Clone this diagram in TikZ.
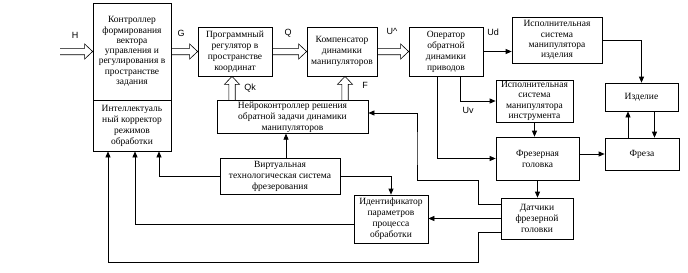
\documentclass[tikz,border=0pt]{standalone}
\usepackage{fontspec}
\setmainfont{Liberation Serif}
\newfontfamily\sigfont{Liberation Sans}
\usetikzlibrary{arrows.meta,calc}

\begin{document}
\begin{tikzpicture}[
    x=1pt, y=-1pt,
    line width=0.7pt,
    >={Triangle[length=6pt,width=5pt]},
    block/.style={
      draw,
      rectangle,
      align=center,
      inner sep=1pt,
      font=\fontsize{9.5}{11}\selectfont
    },
    tight/.style={font=\fontsize{9.5}{10.3}\selectfont},
    sig/.style={font=\sigfont\fontsize{9}{10}\selectfont},
    hollow/.style={
      line width=0.6pt,
      to path={
        let \p1=($(\tikztotarget)-(\tikztostart)$),
            \n1={atan2(\y1,\x1)},
            \n2={veclen(\x1,\y1)-8pt} in
        ($(\tikztostart)+(\n1+90:3.2pt)$)
        -- ($(\tikztostart)!\n2!(\tikztotarget)+(\n1+90:3.2pt)$)
        -- ($(\tikztostart)!\n2!(\tikztotarget)+(\n1+90:7.5pt)$)
        -- (\tikztotarget)
        -- ($(\tikztostart)!\n2!(\tikztotarget)+(\n1-90:7.5pt)$)
        -- ($(\tikztostart)!\n2!(\tikztotarget)+(\n1-90:3.2pt)$)
        -- ($(\tikztostart)+(\n1-90:3.2pt)$)
      }
    },
    every edge/.style={draw,->}
  ]
  \useasboundingbox (0,0) rectangle (688,273);

  % blocks
  \node[block, tight, minimum width=78pt, minimum height=97pt] (ctrl) at (132,51.5)
    {Контроллер\\формирования\\вектора\\управления и\\регулирования в\\пространстве\\задания};
  \node[block, minimum width=78pt, minimum height=51pt] (corr) at (132,125.5)
    {Интеллектуаль\\ный корректор\\режимов\\обработки};
  \node[block, minimum width=74pt, minimum height=49pt] (preg) at (235,51.5)
    {Программный\\регулятор в\\пространстве\\координат};
  \node[block, minimum width=70pt, minimum height=49pt] (comp) at (342,51.5)
    {Компенсатор\\динамики\\манипуляторов};
  \node[block, minimum width=74pt, minimum height=49pt] (oper) at (446,51.5)
    {Оператор\\обратной\\динамики\\приводов};
  \node[block, tight, minimum width=90pt, minimum height=46pt] (exd) at (557,40)
    {Исполнительная\\система\\манипулятора\\изделия};
  \node[block, tight, inner sep=0pt, minimum width=77pt, minimum height=42pt] (exi) at (534.5,101)
    {Исполнительная\\система\\манипулятора\\инструмента};
  \node[block, minimum width=73pt, minimum height=28pt] (izd) at (641.5,97)
    {Изделие};
  \node[block, minimum width=83pt, minimum height=43pt] (fhead) at (537.5,158.5)
    {Фрезерная\\головка};
  \node[block, minimum width=74pt, minimum height=32pt] (freza) at (642,154)
    {Фреза};
  \node[block, minimum width=72pt, minimum height=41pt] (sens) at (537,218.5)
    {Датчики\\фрезерной\\головки};
  \node[block, minimum width=74pt, minimum height=48pt] (ident) at (391,219)
    {Идентификатор\\параметров\\процесса\\обработки};
  \node[block, minimum width=120pt, minimum height=36pt] (virt) at (280,176)
    {Виртуальная\\технологическая система\\фрезерования};
  \node[block, minimum width=151pt, minimum height=32pt] (neuro) at (292.5,117)
    {Нейроконтроллер решения\\обратной задачи динамики\\манипуляторов};

  % signal labels
  \node[sig] (lH) at (75,35) {H};
  \node[sig] (lG) at (181,33) {G};
  \node[sig] (lQ) at (288,33) {Q};
  \node[sig] (lU) at (392,31) {U\^{}};
  \node[sig] (lUd) at (493,32) {Ud};
  \node[sig] (lUv) at (468,110) {Uv};
  \node[sig] (lQk) at (250,88) {Qk};
  \node[sig] (lF) at (365,85) {F};

  % hollow vector channels
  \coordinate (hin) at (60,51.5);
  \draw[hollow] (hin) to (ctrl.west);
  \draw[hollow] (ctrl.east) to (ctrl.east -| preg.west);
  \draw[hollow] (preg.east) to (comp.west);
  \draw[hollow] (comp.east) to (oper.west);
  \draw[hollow] ([xshift=-3pt]preg.south |- neuro.north) to ([xshift=-3pt]preg.south);
  \draw[hollow] ([xshift=3pt]comp.south |- neuro.north) to ([xshift=3pt]comp.south);

  % signal lines
  \path (oper.east) edge (oper.east -| exd.west)
        (exi.south) edge (exi.south |- fhead.north)
        ([xshift=-14pt]freza.north) edge ([xshift=-14pt]freza.north |- izd.south)
        ([xshift=13pt]izd.south) edge ([xshift=13pt]izd.south |- freza.north)
        (freza.west -| fhead.east) edge (freza.west)
        (fhead.south) edge (fhead.south |- sens.north)
        (sens.west) edge (sens.west -| ident.east)
        ([xshift=6pt]virt.north) edge ([xshift=6pt]virt.north |- neuro.south);
  \draw[->] ([xshift=14pt]oper.south) |- (exi.west);
  \draw[->] ([xshift=-9pt]oper.south) |- (fhead.west);
  \draw[->] (exd.east) -| (izd.north);
  \draw[->] (virt.east) -| (ident.north);
  \draw[->] (virt.west) -| ([xshift=27pt]corr.south);
  \draw[->] ([yshift=-5pt]ident.west) -| ([xshift=3pt]corr.south);
  \draw[->] ([yshift=-14pt]sens.west) -| (478,262) -| ([xshift=-24pt]corr.south);
  \draw[->] ([yshift=14pt]sens.west) -| (478,180) -| (417,150) |- ([yshift=4pt]neuro.east);
\end{tikzpicture}
\end{document}
